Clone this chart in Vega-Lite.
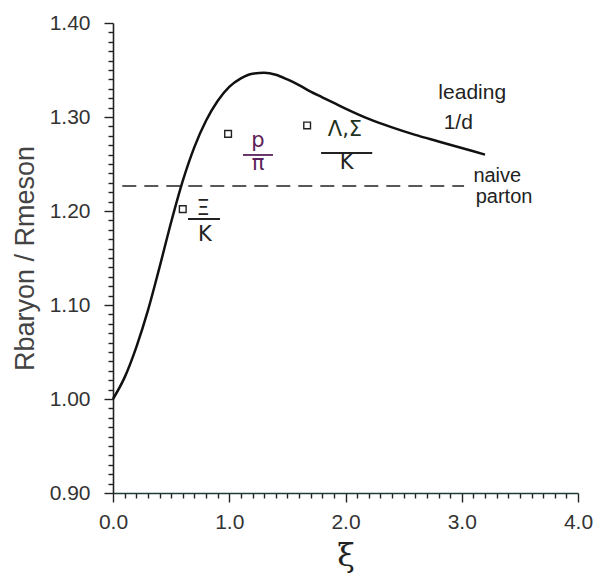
{
  "$schema": "https://vega.github.io/schema/vega-lite/v6.json",
  "width": 465,
  "height": 470,
  "autosize": {"type": "none"},
  "padding": {"left": 113, "top": 23, "right": 19, "bottom": 82},
  "background": "white",
  "config": {"view": {"stroke": null}},
  "datasets": {
    "curve": [
      {"x": 0.0, "y": 1.000}, {"x": 0.1, "y": 1.023}, {"x": 0.2, "y": 1.055},
      {"x": 0.3, "y": 1.094}, {"x": 0.4, "y": 1.140}, {"x": 0.5, "y": 1.188},
      {"x": 0.6, "y": 1.232}, {"x": 0.7, "y": 1.268}, {"x": 0.8, "y": 1.296},
      {"x": 0.9, "y": 1.317}, {"x": 1.0, "y": 1.332}, {"x": 1.1, "y": 1.341},
      {"x": 1.2, "y": 1.346}, {"x": 1.3, "y": 1.347}, {"x": 1.4, "y": 1.345},
      {"x": 1.5, "y": 1.340}, {"x": 1.6, "y": 1.334}, {"x": 1.7, "y": 1.327},
      {"x": 1.8, "y": 1.321}, {"x": 1.9, "y": 1.315}, {"x": 2.0, "y": 1.309},
      {"x": 2.2, "y": 1.298}, {"x": 2.4, "y": 1.289}, {"x": 2.6, "y": 1.281},
      {"x": 2.8, "y": 1.274}, {"x": 3.0, "y": 1.267}, {"x": 3.2, "y": 1.260}
    ],
    "points": [
      {"x": 0.60, "y": 1.202, "ratio": "Xi/K"},
      {"x": 0.99, "y": 1.282, "ratio": "p/pi"},
      {"x": 1.67, "y": 1.291, "ratio": "Lambda,Sigma/K"}
    ],
    "naive": [{"x": 0.08, "x2": 3.02, "y": 1.2265}],
    "bars": [
      {"x": 0.645, "x2": 0.92, "y": 1.1915, "c": "dark"},
      {"x": 1.118, "x2": 1.376, "y": 1.2596, "c": "purple"},
      {"x": 1.79, "x2": 2.23, "y": 1.2617, "c": "dark"}
    ],
    "labels": [
      {"x": 0.775, "y": 1.202, "t": "Ξ", "c": "dark"},
      {"x": 0.79, "y": 1.175, "t": "K", "c": "dark"},
      {"x": 1.247, "y": 1.275, "t": "p", "c": "purple"},
      {"x": 1.247, "y": 1.250, "t": "π", "c": "purple"},
      {"x": 1.995, "y": 1.286, "t": "Λ,Σ", "c": "green"},
      {"x": 2.01, "y": 1.251, "t": "K", "c": "dark"}
    ],
    "notesCenter": [
      {"x": 3.09, "y": 1.3255, "t": "leading"},
      {"x": 2.97, "y": 1.2936, "t": "1/d"}
    ],
    "notesLeft": [
      {"x": 3.10, "y": 1.237, "t": "naive"},
      {"x": 3.12, "y": 1.215, "t": "parton"}
    ]
  },
  "layer": [
    {
      "data": {"name": "curve"},
      "mark": {"type": "line", "color": "#111111", "strokeWidth": 2.5, "interpolate": "monotone"},
      "encoding": {
        "x": {"field": "x", "type": "quantitative", "scale": {"domain": [0, 4], "nice": false},
          "axis": {"orient": "bottom", "tickCount": 100, "values": [0,0.1,0.2,0.3,0.4,0.5,0.6,0.7,0.8,0.9,1,1.1,1.2,1.3,1.4,1.5,1.6,1.7,1.8,1.9,2,2.1,2.2,2.3,2.4,2.5,2.6,2.7,2.8,2.9,3,3.1,3.2,3.3,3.4,3.5,3.6,3.7,3.8,3.9,4],
            "labelExpr": "abs(datum.value - round(datum.value)) < 0.001 ? format(datum.value, '.1f') : ''",
            "tickSize": {"condition": {"test": "abs(datum.value - round(datum.value)) < 0.001", "value": 9}, "value": 5},
            "grid": false, "tickWidth": 1.4, "tickColor": "#222", "domainColor": "#1f3b35", "domainWidth": 1.6,
            "labelFont": "Liberation Sans", "labelFontSize": 21, "labelColor": "#333", "labelPadding": 9, "labelFlush": false, "labelOverlap": false,
            "title": "ξ", "titleFont": "DejaVu Serif", "titleFontSize": 32, "titleFontWeight": "normal", "titleColor": "#222",
            "titleY": 62, "titleBaseline": "middle"}},
        "y": {"field": "y", "type": "quantitative", "scale": {"domain": [0.9, 1.4], "nice": false, "zero": false},
          "axis": {"orient": "left", "tickCount": 100, "values": [0.9,0.91,0.92,0.93,0.94,0.95,0.96,0.97,0.98,0.99,1,1.01,1.02,1.03,1.04,1.05,1.06,1.07,1.08,1.09,1.1,1.11,1.12,1.13,1.14,1.15,1.16,1.17,1.18,1.19,1.2,1.21,1.22,1.23,1.24,1.25,1.26,1.27,1.28,1.29,1.3,1.31,1.32,1.33,1.34,1.35,1.36,1.37,1.38,1.39,1.4],
            "labelExpr": "abs(datum.value * 10 - round(datum.value * 10)) < 0.001 ? format(datum.value, '.2f') : ''",
            "tickSize": {"condition": {"test": "abs(datum.value * 10 - round(datum.value * 10)) < 0.001", "value": 9}, "value": 5},
            "grid": false, "tickWidth": 1.4, "tickColor": "#222", "domainColor": "#222", "domainWidth": 1.6,
            "labelFont": "Liberation Sans", "labelFontSize": 21, "labelColor": "#333", "labelPadding": 14, "labelFlush": false, "labelOverlap": false,
            "title": "Rbaryon / Rmeson", "titleFont": "Liberation Sans", "titleFontSize": 27, "titleFontWeight": "normal", "titleColor": "#444",
            "titleX": -88, "titleY": 235, "titleAngle": -90, "titleAlign": "center", "titleBaseline": "middle"}}
      }
    },
    {
      "data": {"name": "points"},
      "mark": {"type": "point", "shape": "square", "size": 45, "filled": false, "color": "#222", "strokeWidth": 1.4, "opacity": 1},
      "encoding": {
        "x": {"field": "x", "type": "quantitative"},
        "y": {"field": "y", "type": "quantitative"}
      }
    },
    {
      "data": {"name": "naive"},
      "mark": {"type": "rule", "color": "#222", "strokeWidth": 1.5, "strokeDash": [14, 8]},
      "encoding": {
        "x": {"field": "x", "type": "quantitative"},
        "x2": {"field": "x2"},
        "y": {"field": "y", "type": "quantitative"}
      }
    },
    {
      "data": {"name": "bars"},
      "mark": {"type": "rule", "strokeWidth": 1.8},
      "encoding": {
        "x": {"field": "x", "type": "quantitative"},
        "x2": {"field": "x2"},
        "y": {"field": "y", "type": "quantitative"},
        "color": {"field": "c", "type": "nominal", "legend": null,
          "scale": {"domain": ["purple", "dark", "green"], "range": ["#5a2058", "#222222", "#1e3322"]}}
      }
    },
    {
      "data": {"name": "labels"},
      "mark": {"type": "text", "font": "DejaVu Sans", "fontSize": 21, "align": "center", "baseline": "middle"},
      "encoding": {
        "x": {"field": "x", "type": "quantitative"},
        "y": {"field": "y", "type": "quantitative"},
        "text": {"field": "t"},
        "color": {"field": "c", "type": "nominal", "legend": null}
      }
    },
    {
      "data": {"name": "notesCenter"},
      "mark": {"type": "text", "font": "Liberation Sans", "fontSize": 21, "align": "center", "baseline": "middle", "color": "#222"},
      "encoding": {
        "x": {"field": "x", "type": "quantitative"},
        "y": {"field": "y", "type": "quantitative"},
        "text": {"field": "t"}
      }
    },
    {
      "data": {"name": "notesLeft"},
      "mark": {"type": "text", "font": "Liberation Sans", "fontSize": 20, "align": "left", "baseline": "middle", "color": "#222"},
      "encoding": {
        "x": {"field": "x", "type": "quantitative"},
        "y": {"field": "y", "type": "quantitative"},
        "text": {"field": "t"}
      }
    }
  ]
}
